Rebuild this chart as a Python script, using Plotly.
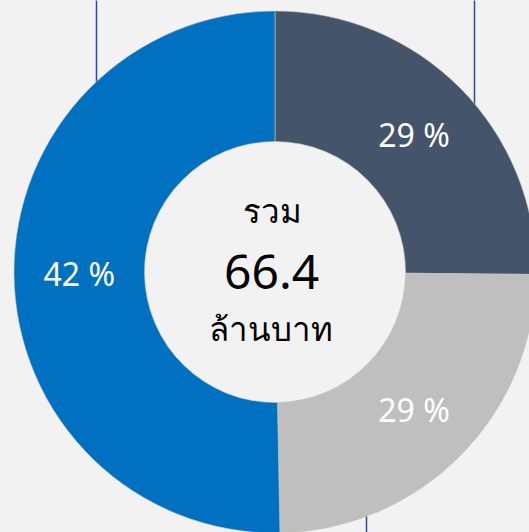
import plotly.graph_objects as go

# fatias (ล้านบาท) e rótulos exibidos
categorias = ["ส่วนที่ 1", "ส่วนที่ 2", "ส่วนที่ 3"]
valores = [16.7, 16.3, 33.4]
rotulos = ["29 %", "29 %", "42 %"]
cores = ["#44546a", "#bfbfbf", "#0070c0"]

total_titulo = "รวม"
total_valor = "66.4"
total_unidade = "ล้านบาท"

FONT = "Noto Sans, Open Sans, sans-serif"
BG = "#f2f2f2"

fig = go.Figure()
fig.add_trace(
    go.Pie(
        labels=categorias,
        values=valores,
        text=rotulos,
        textinfo="text",
        textposition="inside",
        insidetextorientation="horizontal",
        textfont=dict(family=FONT, size=32, color="white"),
        hole=0.5,
        sort=False,
        direction="clockwise",
        rotation=0,
        marker=dict(colors=cores, line=dict(color="rgba(200,200,190,0.6)", width=1)),
        showlegend=False,
    )
)

# linhas-guia cortadas (ficam atrás da rosca)
for x0, y0, y1 in [(96, 0, 120), (474, 0, 140), (366, 480, 540)]:
    fig.add_shape(
        type="line", xref="paper", yref="paper",
        x0=(x0 - 13.5) / 522, x1=(x0 - 13.5) / 522,
        y0=1 - (y0 - 10.5) / 522, y1=1 - (y1 - 10.5) / 522,
        line=dict(color="#2f4a9a", width=1.5), layer="below",
    )

# texto central
fig.add_annotation(x=0.5, y=0.5 + 62 / 522, xref="paper", yref="paper", xshift=-3,
                   text=total_titulo, showarrow=False,
                   font=dict(family=FONT, size=33, color="black"))
fig.add_annotation(x=0.5, y=0.5 + 2 / 522, xref="paper", yref="paper", xshift=-4,
                   text=total_valor, showarrow=False,
                   font=dict(family=FONT, size=48, color="black"))
fig.add_annotation(x=0.5, y=0.5 - 56 / 522, xref="paper", yref="paper", xshift=-4,
                   text=total_unidade, showarrow=False,
                   font=dict(family=FONT, size=33, color="black"))

fig.update_layout(
    width=536,
    height=533,
    margin=dict(l=13.5, r=0, t=10.5, b=0, pad=0),
    paper_bgcolor=BG,
    plot_bgcolor=BG,
)

fig.write_html(
    "out.html",
    config={"displayModeBar": False},
    post_script="document.body.style.margin='0';document.body.style.overflow='hidden';"
    "document.body.style.background='#f2f2f2';",
)
